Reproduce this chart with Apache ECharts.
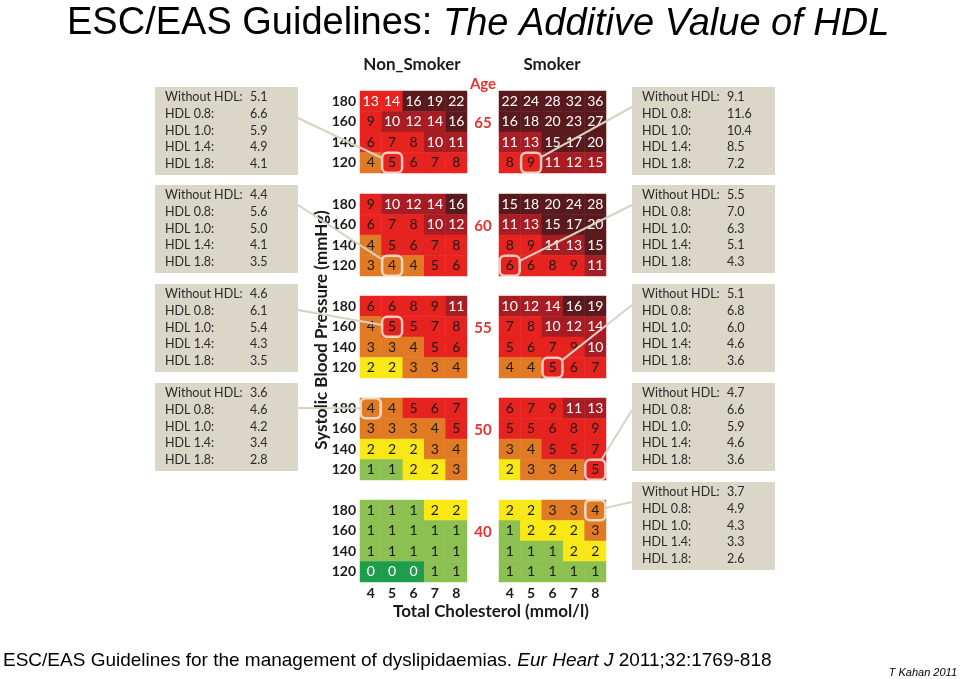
<!DOCTYPE html>
<html><head><meta charset="utf-8">
<script src="https://cdn.jsdelivr.net/npm/echarts@6/dist/echarts.min.js"></script>
<style>html,body{margin:0;padding:0;background:#fff}#c{width:960px;height:679px}</style>
</head><body><div id="c"></div>
<script>
// ---------- DATA ----------
const cholesterol = ['4', '5', '6', '7', '8'];
const sbp = ['120', '140', '160', '180'];
const ages = ['65', '60', '55', '50', '40'];

// 10-year risk (%), rows listed top (SBP 180) to bottom (SBP 120), columns cholesterol 4..8
const nonSmoker65 = [[13,14,16,19,22],[9,10,12,14,16],[6,7,8,10,11],[4,5,6,7,8]];
const nonSmoker60 = [[9,10,12,14,16],[6,7,8,10,12],[4,5,6,7,8],[3,4,4,5,6]];
const nonSmoker55 = [[6,6,8,9,11],[4,5,5,7,8],[3,3,4,5,6],[2,2,3,3,4]];
const nonSmoker50 = [[4,4,5,6,7],[3,3,3,4,5],[2,2,2,3,4],[1,1,2,2,3]];
const nonSmoker40 = [[1,1,1,2,2],[1,1,1,1,1],[1,1,1,1,1],[0,0,0,1,1]];
const smoker65 = [[22,24,28,32,36],[16,18,20,23,27],[11,13,15,17,20],[8,9,11,12,15]];
const smoker60 = [[15,18,20,24,28],[11,13,15,17,20],[8,9,11,13,15],[6,6,8,9,11]];
const smoker55 = [[10,12,14,16,19],[7,8,10,12,14],[5,6,7,9,10],[4,4,5,6,7]];
const smoker50 = [[6,7,9,11,13],[5,5,6,8,9],[3,4,5,5,7],[2,3,3,4,5]];
const smoker40 = [[2,2,3,3,4],[1,2,2,2,3],[1,1,1,2,2],[1,1,1,1,1]];

// risk bands (upper bound of each band)
const bandMax = [0, 1, 2, 4, 9, 14, Infinity];
// cells shown in a different band than their value implies: [group, age, sbp, chol, band]
const bandOverrides = [['nonSmoker','65','180','4',4],['nonSmoker','65','180','5',4],['smoker','65','120','8',5]];

// HDL callouts
const hdlLabels = ['Without HDL:', 'HDL 0.8:', 'HDL 1.0:', 'HDL 1.4:', 'HDL 1.8:'];
const hdlNonSmoker65 = [5.1, 6.6, 5.9, 4.9, 4.1];
const hdlNonSmoker60 = [4.4, 5.6, 5.0, 4.1, 3.5];
const hdlNonSmoker55 = [4.6, 6.1, 5.4, 4.3, 3.5];
const hdlNonSmoker50 = [3.6, 4.6, 4.2, 3.4, 2.8];
const hdlSmoker65 = [9.1, 11.6, 10.4, 8.5, 7.2];
const hdlSmoker60 = [5.5, 7.0, 6.3, 5.1, 4.3];
const hdlSmoker55 = [5.1, 6.8, 6.0, 4.6, 3.6];
const hdlSmoker50 = [4.7, 6.6, 5.9, 4.6, 3.6];
const hdlSmoker40 = [3.7, 4.9, 4.3, 3.3, 2.6];
// highlighted cell for each callout: [cholesterol, sbp]
const cellNonSmoker65 = ['5', '120'];
const cellNonSmoker60 = ['5', '120'];
const cellNonSmoker55 = ['5', '160'];
const cellNonSmoker50 = ['4', '180'];
const cellSmoker65 = ['5', '120'];
const cellSmoker60 = ['4', '120'];
const cellSmoker55 = ['6', '120'];
const cellSmoker50 = ['8', '120'];
const cellSmoker40 = ['8', '180'];

// ---------- STYLE / LAYOUT ----------
const bandColors = ['#1e9e4c', '#8cc152', '#f7e816', '#e07a24', '#e6231f', '#a81c24', '#5a1a1d'];
const FONT = 'Lato';
const gridTops = [91, 194, 296, 398, 500];
const cellW = 107, cellH = 82;
const groups = [
  { key: 'nonSmoker', left: 360, data: [nonSmoker65, nonSmoker60, nonSmoker55, nonSmoker50, nonSmoker40],
    hdl: [hdlNonSmoker65, hdlNonSmoker60, hdlNonSmoker55, hdlNonSmoker50, null],
    cells: [cellNonSmoker65, cellNonSmoker60, cellNonSmoker55, cellNonSmoker50, null] },
  { key: 'smoker', left: 499, data: [smoker65, smoker60, smoker55, smoker50, smoker40],
    hdl: [hdlSmoker65, hdlSmoker60, hdlSmoker55, hdlSmoker50, hdlSmoker40],
    cells: [cellSmoker65, cellSmoker60, cellSmoker55, cellSmoker50, cellSmoker40] }
];
const boxTops = [87, 185, 284, 383, 482];
const lineStartLeft = [118, 205, 310, 408];
const lineStartRight = [107, 205, 305, 410, 502];

function bandOf(v) { for (let i = 0; i < bandMax.length; i++) if (v <= bandMax[i]) return i; return bandMax.length - 1; }

const grid = [], xAxis = [], yAxis = [], series = [];
const callouts = [];
groups.forEach((g, gi) => {
  ages.forEach((age, ai) => {
    const idx = grid.length;
    grid.push({ left: g.left, top: gridTops[ai], width: cellW, height: cellH });
    const isBottom = ai === ages.length - 1;
    xAxis.push({ type: 'category', gridIndex: idx, data: cholesterol,
      axisLine: { show: false }, axisTick: { show: false }, splitLine: { show: false },
      axisLabel: { show: isBottom, fontFamily: FONT, fontWeight: 'bold', fontSize: 14, color: '#1a1a1a', margin: 4 } });
    yAxis.push({ type: 'category', gridIndex: idx, data: sbp,
      axisLine: { show: false }, axisTick: { show: false }, splitLine: { show: false },
      axisLabel: { show: gi === 0, fontFamily: FONT, fontWeight: 'bold', fontSize: 14, color: '#1a1a1a', margin: 4 } });
    const rows = g.data[ai];
    const data = [];
    rows.forEach((row, r) => {
      const s = sbp[sbp.length - 1 - r];
      row.forEach((v, c) => {
        let band = bandOf(v);
        bandOverrides.forEach(o => { if (o[0] === g.key && o[1] === age && o[2] === s && o[3] === cholesterol[c]) band = o[4]; });
        data.push({ value: [c, sbp.length - 1 - r, v],
          itemStyle: { color: bandColors[band] },
          label: { color: (v >= 10 || v === 0) ? '#ffffff' : '#1a1a1a' } });
      });
    });
    series.push({ type: 'heatmap', xAxisIndex: idx, yAxisIndex: idx, data: data,
      label: { show: true, fontFamily: FONT, fontSize: 14, formatter: p => String(p.value[2]) },
      itemStyle: { borderWidth: 0 }, emphasis: { disabled: true } });
    if (g.cells[ai]) {
      const cell = g.cells[ai];
      series.push({ type: 'scatter', xAxisIndex: idx, yAxisIndex: idx, z: 5,
        data: [[cholesterol.indexOf(cell[0]), sbp.indexOf(cell[1])]],
        symbol: 'roundRect', symbolSize: [20, 20],
        itemStyle: { color: 'rgba(0,0,0,0)', borderColor: '#f4f0e6', borderWidth: 2.5 },
        emphasis: { disabled: true }, silent: true });
      callouts.push({ gi, ai, idx, cell, values: g.hdl[ai] });
    }
  });
});

const chart = echarts.init(document.getElementById('c'), null, { renderer: 'canvas' });
chart.setOption({
  animation: false,
  backgroundColor: '#ffffff',
  title: {
    text: '{n|ESC/EAS Guidelines: }{i|The Additive Value of HDL}',
    left: 62, top: 0,
    textStyle: { rich: {
      n: { fontFamily: 'Liberation Sans', fontWeight: 'normal', fontSize: 38, color: '#000' },
      i: { fontFamily: 'Liberation Sans', fontWeight: 'normal', fontSize: 38, fontStyle: 'italic', color: '#000' } } }
  },
  grid, xAxis, yAxis, series
});

// ---------- graphics: headers, callout boxes, connectors ----------
const graphics = [];
const hdr = { fontFamily: FONT, fontWeight: 'bold', fontSize: 17, fill: '#1a1a1a' };
graphics.push({ type: 'text', x: 412, y: 65, style: Object.assign({ text: 'Non_Smoker', align: 'center', verticalAlign: 'middle' }, hdr) });
graphics.push({ type: 'text', x: 552, y: 65, style: Object.assign({ text: 'Smoker', align: 'center', verticalAlign: 'middle' }, hdr) });
graphics.push({ type: 'text', x: 483, y: 84, style: { text: 'Age', align: 'center', verticalAlign: 'middle', fontFamily: FONT, fontWeight: 'bold', fontSize: 15, fill: '#e2332e' } });
ages.forEach((age, ai) => {
  graphics.push({ type: 'text', x: 483, y: gridTops[ai] + 32, style: { text: age, align: 'center', verticalAlign: 'middle', fontFamily: FONT, fontWeight: 'bold', fontSize: 15, fill: '#e2332e' } });
});
graphics.push({ type: 'text', x: 491, y: 612, style: { text: 'Total Cholesterol (mmol/l)', align: 'center', verticalAlign: 'middle', fontFamily: FONT, fontWeight: 'bold', fontSize: 17, fill: '#1a1a1a' } });
graphics.push({ type: 'text', x: 322, y: 330, rotation: Math.PI / 2, style: { text: 'Systolic Blood Pressure (mmHg)', align: 'center', verticalAlign: 'middle', fontFamily: FONT, fontWeight: 'bold', fontSize: 17, fill: '#1a1a1a' } });

callouts.forEach(co => {
  const bx = co.gi === 0 ? 155 : 632;
  const by = boxTops[co.ai];
  const children = [{ type: 'rect', shape: { x: 0, y: 0, width: 143, height: 88 }, style: { fill: '#dbd7c8' } }];
  hdlLabels.forEach((lab, k) => {
    children.push({ type: 'text', x: 10, y: 10 + k * 16.8, style: { text: lab, verticalAlign: 'middle', fontFamily: FONT, fontSize: 12.5, fill: '#2a2a2a' } });
    children.push({ type: 'text', x: 95, y: 10 + k * 16.8, style: { text: co.values[k].toFixed(1), verticalAlign: 'middle', fontFamily: FONT, fontSize: 12.5, fill: '#2a2a2a' } });
  });
  graphics.push({ type: 'group', x: bx, y: by, children });
  // connector line
  const c = chart.convertToPixel({ gridIndex: co.idx }, [cholesterol.indexOf(co.cell[0]), sbp.indexOf(co.cell[1])]);
  const sx = co.gi === 0 ? 298 : 632;
  const sy = co.gi === 0 ? lineStartLeft[co.ai] : lineStartRight[co.ai];
  const dx = sx - c[0], dy = sy - c[1];
  const hw = 10, hh = 10;
  const s = Math.min(hw / Math.abs(dx || 1e-6), hh / Math.abs(dy || 1e-6));
  const ex = c[0] + dx * s, ey = c[1] + dy * s;
  graphics.push({ type: 'line', z: 10, shape: { x1: sx, y1: sy, x2: ex, y2: ey }, style: { stroke: '#d8d2c2', lineWidth: 2 } });
});

graphics.push({ type: 'text', x: 3, y: 661, style: {
  text: '{n|ESC/EAS Guidelines for the management of dyslipidaemias. }{i|Eur Heart J}{n| 2011;32:1769-818}',
  verticalAlign: 'middle',
  rich: { n: { fontFamily: 'Liberation Sans', fontSize: 19, fill: '#000' },
          i: { fontFamily: 'Liberation Sans', fontSize: 19, fontStyle: 'italic', fill: '#000' } } } });
graphics.push({ type: 'text', x: 957, y: 673, style: { text: 'T Kahan 2011', align: 'right', verticalAlign: 'middle', fontFamily: 'Liberation Sans', fontSize: 11, fontStyle: 'italic', fill: '#000' } });

chart.setOption({ graphic: graphics });
</script></body></html>
